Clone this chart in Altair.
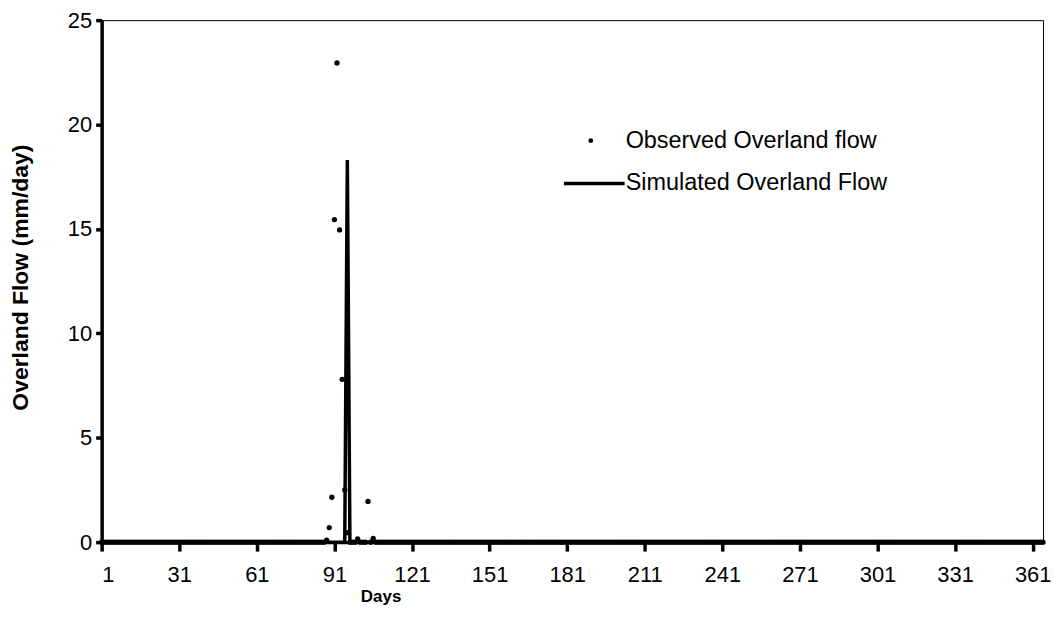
import altair as alt
import pandas as pd

# ---- data ----
days = list(range(1, 366))

obs_event_days = [88, 89, 90, 91, 92, 93, 94, 95, 96, 100, 104, 106]
obs_event_vals = [0.1, 0.7, 2.15, 15.45, 22.95, 14.95, 7.8, 2.5, 0.45, 0.15, 1.95, 0.18]

sim_event_days = [96]
sim_event_vals = [18.3]

x_tick_values = list(range(1, 362, 30))
y_tick_values = [0, 5, 10, 15, 20, 25]

obs_name = "Observed Overland flow"
sim_name = "Simulated Overland Flow"

obs_map = dict(zip(obs_event_days, obs_event_vals))
sim_map = dict(zip(sim_event_days, sim_event_vals))
df = pd.DataFrame({
    "day": days,
    "observed": [obs_map.get(d, 0.0) for d in days],
    "simulated": [sim_map.get(d, 0.0) for d in days],
})

FONT = "Liberation Sans"

x_axis = alt.Axis(
    values=x_tick_values, title="Days", tickSize=9, labelPadding=14,
    domainWidth=3.5, tickWidth=3.5, domainColor="black", tickColor="black",
    titleX=280, titleY=55, titleAlign="center", titleBaseline="middle",
    titleFontSize=17, titleFontWeight="bold", zindex=2,
)
x_enc = alt.X(
    "day:Q",
    scale=alt.Scale(domain=[1, 365], nice=False, zero=False),
    axis=x_axis,
)
y_axis = alt.Axis(
    values=y_tick_values, title="Overland Flow (mm/day)", tickSize=6, labelPadding=4,
    domainWidth=3.5, tickWidth=3.5, domainColor="black", tickColor="black",
    titleX=-81, titleY=258, titleAngle=270, titleAlign="center", titleBaseline="middle",
    titleFontSize=23, titleFontWeight="bold", zindex=2,
)
y_scale = alt.Scale(domain=[0, 25], nice=False)

base = alt.Chart(df)

observed = base.mark_point(filled=True, color="black", size=28, opacity=1).encode(
    x=x_enc,
    y=alt.Y("observed:Q", scale=y_scale, axis=y_axis),
)

simulated = base.mark_line(color="black", strokeWidth=3.5).encode(
    x=x_enc,
    y=alt.Y("simulated:Q", scale=y_scale, axis=y_axis),
)

# ---- legend (layout only) ----
leg_obs_df = pd.DataFrame({"label": [obs_name]})
leg_sim_df = pd.DataFrame({"label": [sim_name]})

leg_obs_pt = alt.Chart(leg_obs_df).mark_point(filled=True, color="black", size=22, opacity=1).encode(
    x=alt.value(491), y=alt.value(121)
)
leg_obs_txt = alt.Chart(leg_obs_df).mark_text(
    align="left", baseline="middle", font=FONT, fontSize=23.5, color="black"
).encode(x=alt.value(526), y=alt.value(121), text="label:N")
leg_sim_line = alt.Chart(leg_sim_df).mark_rule(color="black", strokeWidth=3.5).encode(
    x=alt.value(464), x2=alt.value(525), y=alt.value(164)
)
leg_sim_txt = alt.Chart(leg_sim_df).mark_text(
    align="left", baseline="middle", font=FONT, fontSize=23.5, color="black"
).encode(x=alt.value(526), y=alt.value(164), text="label:N")

chart = alt.layer(
    observed, simulated, leg_obs_pt, leg_obs_txt, leg_sim_line, leg_sim_txt
).properties(
    width=945, height=524,
    autosize=alt.AutoSizeParams(type="none"),
    padding={"left": 94, "top": 11, "right": 10, "bottom": 80},
    background="white",
).configure_view(
    stroke="black", strokeWidth=1
).configure_axis(
    grid=False, labelFont=FONT, labelFontSize=22, labelColor="black",
    titleFont=FONT, titleColor="black",
)

chart.save("out.html", embed_options={"renderer": "svg", "actions": False})
